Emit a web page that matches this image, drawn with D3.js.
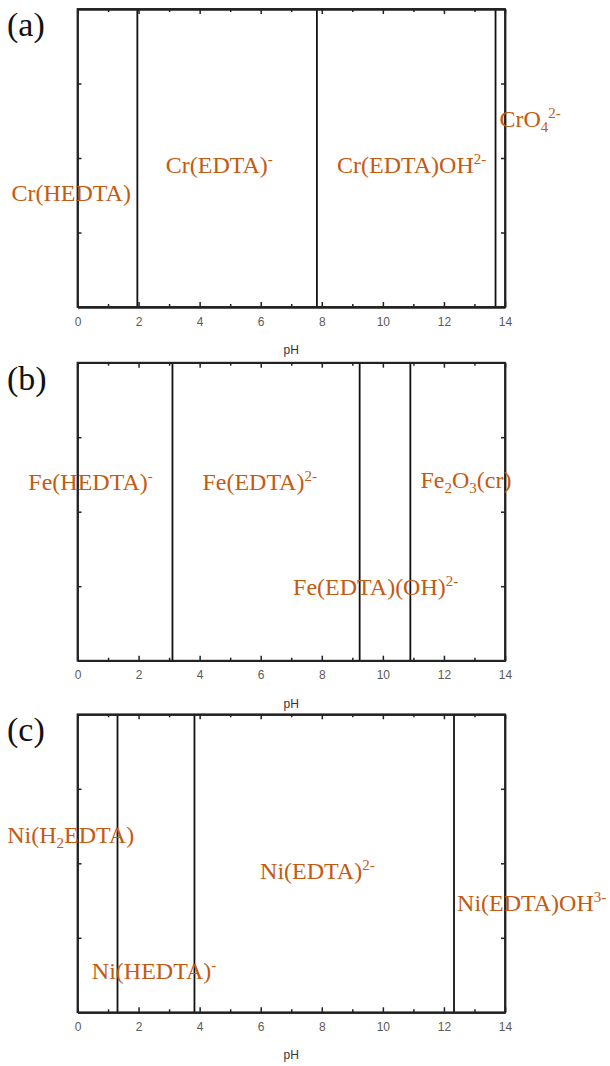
<!DOCTYPE html>
<html>
<head>
<meta charset="utf-8">
<script src="https://cdn.jsdelivr.net/npm/d3@7"></script>
<style>
  html, body { margin: 0; padding: 0; background: #fff; }
  svg { display: block; }
</style>
</head>
<body>
<svg id="chart" width="610" height="1066"></svg>
<script>
// ---------- data ----------
const xTicks = [0, 2, 4, 6, 8, 10, 12, 14];
const xMinorTicks = [1, 3, 5, 7, 9, 11, 13];
const yTicks = [0.25, 0.5, 0.75];
const panelLetters = ["(a)", "(b)", "(c)"];
const xTitle = "pH";

// predominance-field boundaries (pH)
const boundariesA = [1.96, 7.84, 13.69];
const boundariesB = [3.11, 9.24, 10.90];
const boundariesC = [1.31, 3.83, 12.33];

// species labels (_{..} subscript, ^{..} superscript), anchor pH and relative height
const speciesA = ["Cr(HEDTA)", "Cr(EDTA)^{-}", "Cr(EDTA)OH^{2-}", "CrO_{4}^{2-}"];
const speciesApH = [-2.16, 2.89, 8.50, 13.82];
const speciesAy = [0.355, 0.45, 0.45, 0.605];

const speciesB = ["Fe(HEDTA)^{-}", "Fe(EDTA)^{2-}", "Fe_{2}O_{3}(cr)", "Fe(EDTA)(OH)^{2-}"];
const speciesBpH = [-1.61, 4.09, 11.23, 7.06];
const speciesBy = [0.573, 0.573, 0.58, 0.221];

const speciesC = ["Ni(H_{2}EDTA)", "Ni(HEDTA)^{-}", "Ni(EDTA)^{2-}", "Ni(EDTA)OH^{3-}"];
const speciesCpH = [-2.30, 0.47, 5.98, 12.43];
const speciesCy = [0.569, 0.111, 0.446, 0.340];

// ---------- layout ----------
const panelTops = [9, 362.7, 714.3];
const panelHeight = 298;
const left = 77.5, right = 505;
const labelColor = "#C55A11";

const svg = d3.select("#chart");

const x = d3.scaleLinear().domain([0, 14]).range([left, right]);

const panels = [
  { letter: panelLetters[0], bounds: boundariesA, names: speciesA, px: speciesApH, py: speciesAy },
  { letter: panelLetters[1], bounds: boundariesB, names: speciesB, px: speciesBpH, py: speciesBy },
  { letter: panelLetters[2], bounds: boundariesC, names: speciesC, px: speciesCpH, py: speciesCy }
];

function parseFormula(s) {
  const parts = [];
  const re = /(_|\^)\{([^}]*)\}|([^_^]+)/g;
  let m;
  while ((m = re.exec(s)) !== null) {
    if (m[3] !== undefined) parts.push({ t: m[3], k: "n" });
    else parts.push({ t: m[2], k: m[1] === "_" ? "sub" : "sup" });
  }
  return parts;
}

panels.forEach((p, i) => {
  const top = panelTops[i];
  const bottom = top + panelHeight;
  const y = d3.scaleLinear().domain([0, 1]).range([bottom, top]);
  const g = svg.append("g");

  // vertical boundary lines
  g.selectAll("line.bound").data(p.bounds).enter().append("line")
    .attr("x1", d => x(d)).attr("x2", d => x(d))
    .attr("y1", y(0)).attr("y2", y(1))
    .attr("stroke", "#111").attr("stroke-width", 1.8);

  // axes: bottom with labels, top/right/left inward ticks
  const axB = d3.axisBottom(x).tickValues(xTicks).tickSizeInner(-5).tickSizeOuter(0).tickPadding(10);
  const gb = g.append("g").attr("transform", `translate(0,${bottom})`).call(axB);
  const axBm = d3.axisBottom(x).tickValues(xMinorTicks).tickSizeInner(-3).tickSizeOuter(0).tickFormat("");
  g.append("g").attr("transform", `translate(0,${bottom})`).call(axBm);

  const axT = d3.axisTop(x).tickValues(xTicks).tickSizeInner(-5).tickSizeOuter(0).tickFormat("");
  g.append("g").attr("transform", `translate(0,${top})`).call(axT);
  const axTm = d3.axisTop(x).tickValues(xMinorTicks).tickSizeInner(-3).tickSizeOuter(0).tickFormat("");
  g.append("g").attr("transform", `translate(0,${top})`).call(axTm);

  const axL = d3.axisLeft(y).tickValues(yTicks).tickSizeInner(-4).tickSizeOuter(0).tickFormat("");
  g.append("g").attr("transform", `translate(${left},0)`).call(axL);
  const axR = d3.axisRight(y).tickValues(yTicks).tickSizeInner(-4).tickSizeOuter(0).tickFormat("");
  g.append("g").attr("transform", `translate(${right},0)`).call(axR);

  g.selectAll(".domain").attr("stroke", "#222").attr("stroke-width", 1.8);
  g.selectAll(".tick line").attr("stroke", "#222").attr("stroke-width", 1.5);
  gb.selectAll(".tick text")
    .attr("font-family", "Liberation Sans, Arial, sans-serif")
    .attr("font-size", 12).attr("fill", "#5a5a5a");

  // frame (ensures closed box)
  g.append("rect").attr("x", left).attr("y", top)
    .attr("width", right - left).attr("height", bottom - top)
    .attr("fill", "none").attr("stroke", "#222").attr("stroke-width", 1.8);

  // x title
  g.append("text").attr("x", (left + right) / 2).attr("y", bottom + 47)
    .attr("text-anchor", "middle")
    .attr("font-family", "Liberation Sans, Arial, sans-serif")
    .attr("font-size", 12).attr("fill", "#333").text(xTitle);

  // panel letter
  g.append("text").attr("x", 7).attr("y", top + 27)
    .attr("font-family", "Liberation Serif, Times New Roman, serif")
    .attr("font-size", 34).attr("fill", "#111").text(p.letter);

  // species labels
  p.names.forEach((name, j) => {
    const t = g.append("text")
      .attr("x", x(p.px[j])).attr("y", y(p.py[j]))
      .attr("font-family", "Liberation Serif, Times New Roman, serif")
      .attr("font-size", 24).attr("fill", labelColor);
    let shift = 0;
    parseFormula(name).forEach(seg => {
      const target = seg.k === "sup" ? -9 : seg.k === "sub" ? 5 : 0;
      const ts = t.append("tspan").attr("dy", target - shift).text(seg.t);
      if (seg.k !== "n") ts.attr("font-size", 15);
      shift = target;
    });
  });
});
</script>
</body>
</html>
